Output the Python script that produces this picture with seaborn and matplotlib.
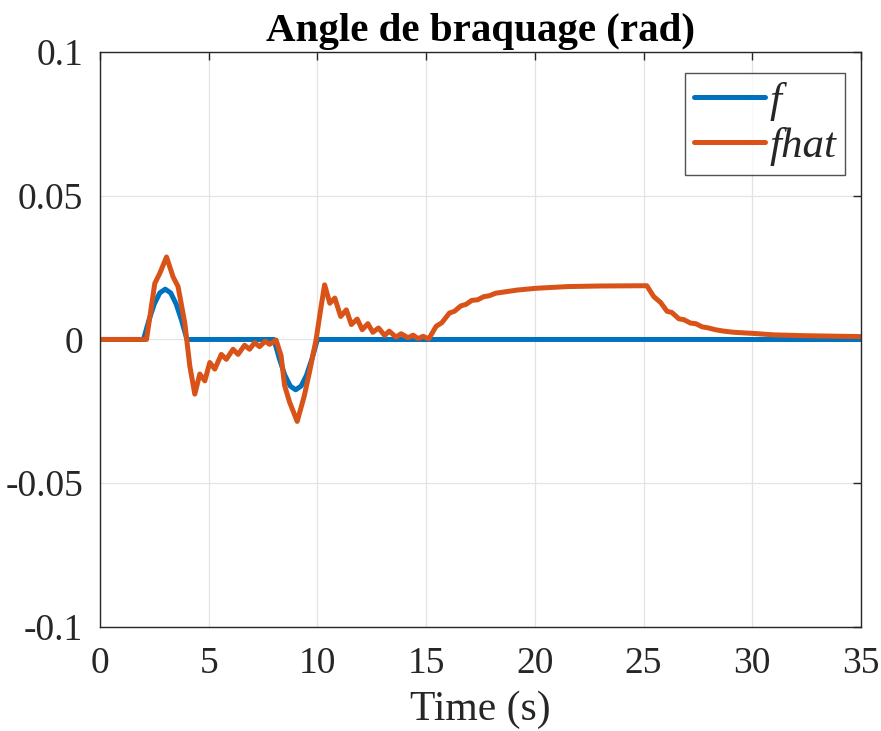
import pandas as pd
import matplotlib
matplotlib.use("Agg")
import matplotlib.pyplot as plt
import seaborn as sns
import numpy as np

# f : consigne d'angle de braquage (rad)
t_f = [0, 2.0, 2.25, 2.5, 2.75, 3.0, 3.25, 3.5, 3.75, 4.0,
       8.0, 8.25, 8.5, 8.75, 9.0, 9.25, 9.5, 9.75, 10.0, 35]
v_f = [0, 0, 0.0067, 0.0124, 0.0162, 0.0175, 0.0162, 0.0124, 0.0067, 0,
       0, -0.0067, -0.0124, -0.0162, -0.0175, -0.0162, -0.0124, -0.0067, 0, 0]

# fhat : estimation
t_fhat = [0, 2.14, 2.52, 2.75, 3.06, 3.36, 3.59, 3.9, 4.13, 4.36, 4.59, 4.82,
          5.05, 5.28, 5.58, 5.81, 6.12, 6.35, 6.65, 6.88, 7.11, 7.34, 7.6, 7.8,
          8.1, 8.33, 8.49, 8.72, 9.07, 9.4, 9.63, 9.94, 10.17, 10.33, 10.57,
          10.8, 11.07, 11.33, 11.56, 11.83, 12.06, 12.32, 12.55, 12.81, 13.09,
          13.3, 13.62, 13.85, 14.17, 14.4, 14.63, 14.86, 15.12, 15.46, 15.72,
          16.07, 16.3, 16.6, 16.83, 17.1, 17.37, 17.65, 17.9, 18.2, 18.75,
          19.2, 20.05, 21.5, 23.0, 25.15, 25.47, 25.78, 26.08, 26.3, 26.62,
          26.85, 27.16, 27.4, 27.69, 27.99, 28.3, 28.69, 29.15, 30.06, 30.98,
          32.5, 35.0]
v_fhat = [0, 0, 0.0195, 0.023, 0.0287, 0.0218, 0.0184, 0.0057, -0.0092, -0.019,
          -0.012, -0.0144, -0.008, -0.0103, -0.0052, -0.0069, -0.0034, -0.0052,
          -0.002, -0.0034, -0.0011, -0.0025, -0.0006, -0.0017, -0.0002, -0.0057,
          -0.016, -0.0218, -0.0285, -0.0195, -0.0115, 0, 0.0115, 0.019, 0.0126,
          0.0144, 0.008, 0.0103, 0.0052, 0.0071, 0.0034, 0.0055, 0.0025, 0.004,
          0.0014, 0.0029, 0.0008, 0.002, 0.0006, 0.0015, 0.0003, 0.0011, 0.0002,
          0.0046, 0.0058, 0.0092, 0.0098, 0.0117, 0.0122, 0.0136, 0.0138, 0.0149,
          0.0152, 0.0161, 0.0167, 0.0172, 0.0178, 0.0184, 0.0186, 0.0187, 0.0149,
          0.0129, 0.0098, 0.0094, 0.0072, 0.0069, 0.0057, 0.0055, 0.0044, 0.004,
          0.0034, 0.0029, 0.0025, 0.0021, 0.0016, 0.0013, 0.001]

df = pd.concat([
    pd.DataFrame({"t": t_f, "v": v_f, "serie": "f"}),
    pd.DataFrame({"t": t_fhat, "v": v_fhat, "serie": "fhat"}),
])

sns.set_style("white")
plt.rcParams["font.family"] = ["Liberation Serif", "DejaVu Serif"]

fig = plt.figure(figsize=(8.81, 7.31), dpi=100)
ax = fig.add_axes([0.1135, 0.1423, 0.8638, 0.7866])

sns.lineplot(data=df, x="t", y="v", hue="serie", estimator=None, sort=False,
             palette=["#0072BD", "#D95319"], linewidth=3.6, ax=ax, legend=False)

ax.set_xlim(0, 35)
ax.set_ylim(-0.1, 0.1)
ax.set_xticks([0, 5, 10, 15, 20, 25, 30, 35])
ax.set_yticks([-0.1, -0.05, 0, 0.05, 0.1])
ax.set_yticklabels(["-0.1", "-0.05", "0", "0.05", "0.1"])
ax.grid(True, color="#e3e3e3", linewidth=0.9)
ax.set_axisbelow(True)
for s in ax.spines.values():
    s.set_color("#262626")
    s.set_linewidth(1.0)
ax.tick_params(direction="in", length=6, width=1.0, colors="#262626",
               labelsize=27, top=True, right=True, labelcolor="#262626")
ax.tick_params(axis="x", pad=14)
ax.tick_params(axis="y", pad=12)

ax.set_xlabel("Time (s)", fontsize=30, color="#262626", labelpad=7)
ax.set_ylabel("")
ax.set_title("Angle de braquage (rad)", fontsize=29.5, fontweight="bold",
             color="black", pad=8)

leg = ax.legend(ax.get_lines()[:2], ["f", "fhat"], loc="upper right",
                prop={"family": "Liberation Serif", "style": "italic", "size": 31},
                handlelength=1.65, handletextpad=0.1, borderpad=0.2,
                labelspacing=0.15, frameon=True, fancybox=False,
                borderaxespad=0, bbox_to_anchor=(0.979, 0.9635))
leg.get_frame().set_edgecolor("#262626")
leg.get_frame().set_linewidth(1.0)

plt.savefig("out.png", dpi=100)
